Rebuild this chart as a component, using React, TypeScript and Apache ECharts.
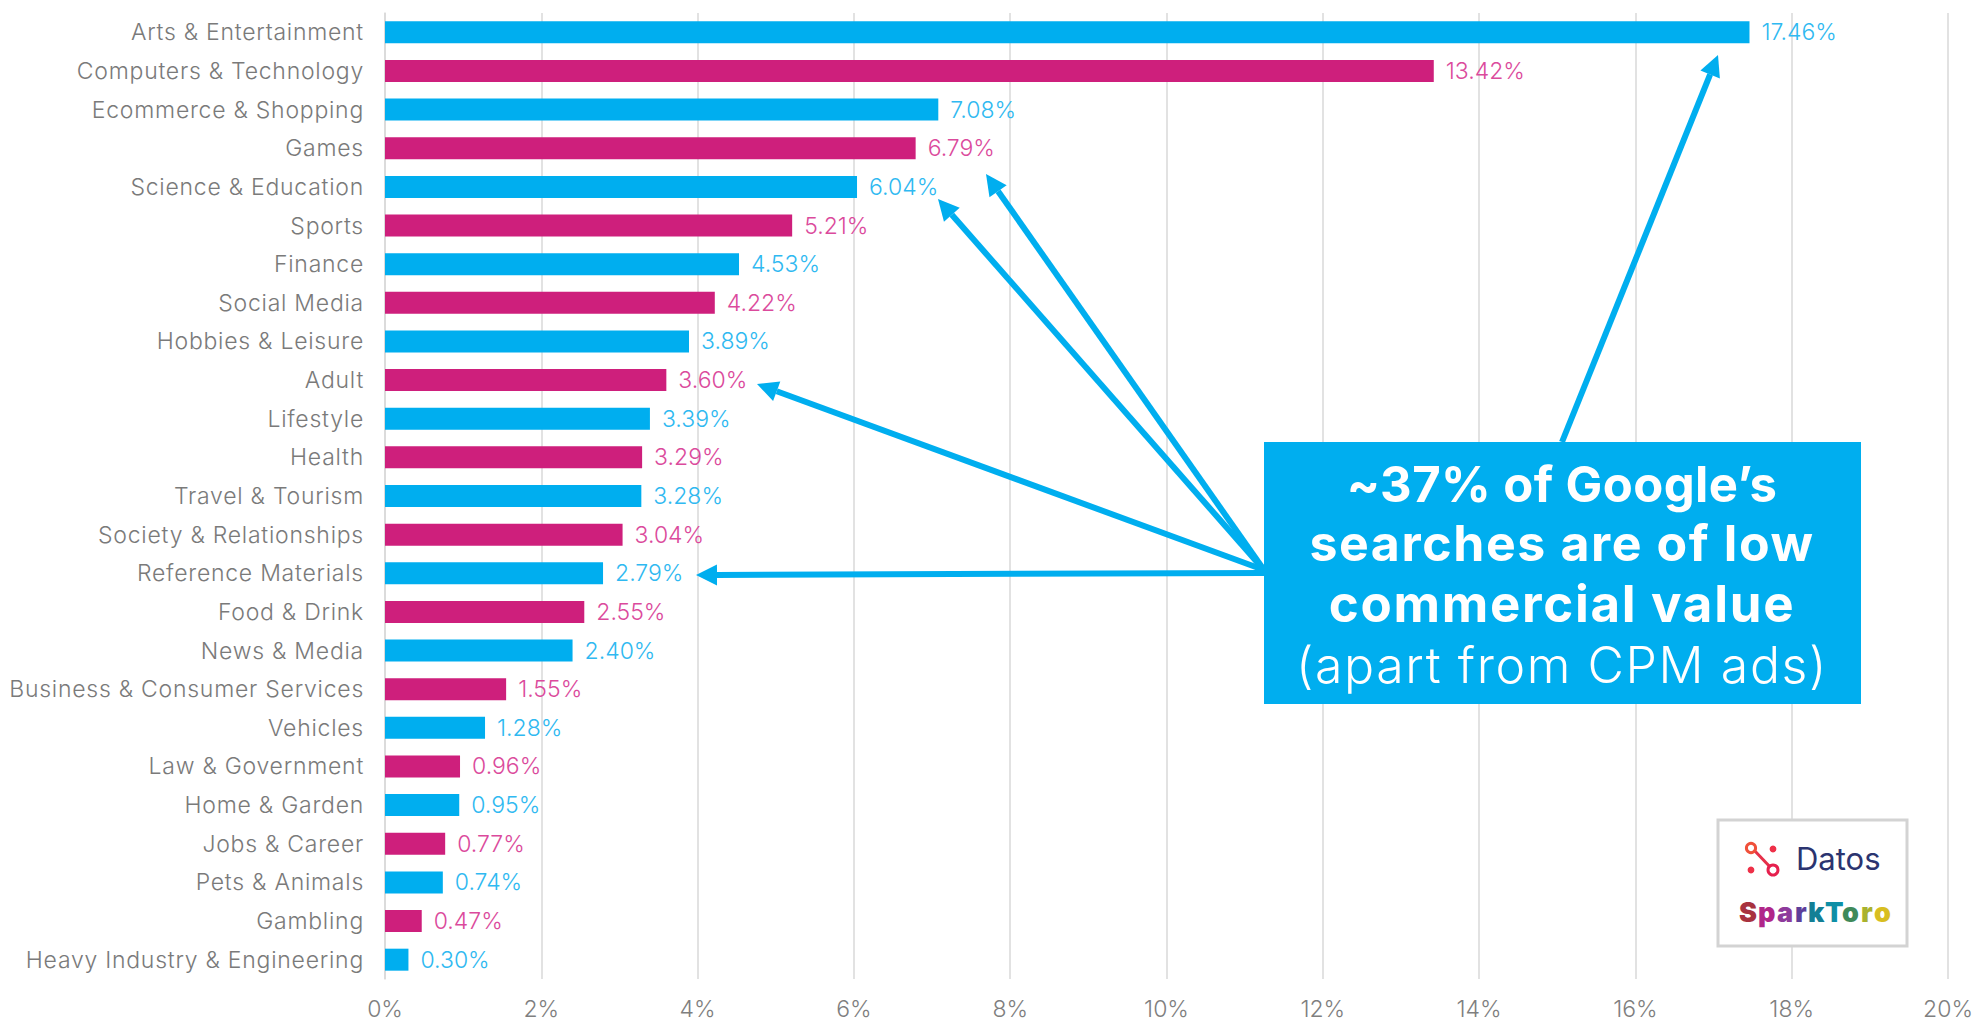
import React, { useEffect, useRef } from "react";
import * as echarts from "echarts";

const categories = [
  "Arts & Entertainment", "Computers & Technology", "Ecommerce & Shopping", "Games",
  "Science & Education", "Sports", "Finance", "Social Media", "Hobbies & Leisure", "Adult",
  "Lifestyle", "Health", "Travel & Tourism", "Society & Relationships", "Reference Materials",
  "Food & Drink", "News & Media", "Business & Consumer Services", "Vehicles", "Law & Government",
  "Home & Garden", "Jobs & Career", "Pets & Animals", "Gambling", "Heavy Industry & Engineering",
];
const shares = [
  17.46, 13.42, 7.08, 6.79, 6.04, 5.21, 4.53, 4.22, 3.89, 3.6, 3.39, 3.29, 3.28, 3.04, 2.79,
  2.55, 2.4, 1.55, 1.28, 0.96, 0.95, 0.77, 0.74, 0.47, 0.3,
];
const barColors = ["#00AEEF", "#CE1F7C"];
const labelColors = ["#2FB9F1", "#DB4A9C"];
const FONT = "Inter";

// start and end of each callout arrow: the tail sits on the callout box
const arrows = [
  [1562, 442, 1718, 55],
  [1264, 570, 986, 174],
  [1264, 570, 938, 199],
  [1264, 570, 757, 384],
  [1264, 573, 696, 575],
];

function arrowGraphics() {
  const out: any[] = [];
  for (const [x1, y1, x2, y2] of arrows) {
    const a = Math.atan2(y2 - y1, x2 - x1);
    const len = 21;
    const half = 10.5;
    const bx = x2 - len * Math.cos(a);
    const by = y2 - len * Math.sin(a);
    const nx = -Math.sin(a);
    const ny = Math.cos(a);
    out.push({
      type: "line",
      z: 20,
      shape: { x1, y1, x2: bx, y2: by },
      style: { stroke: "#00AEEF", lineWidth: 6 },
    });
    out.push({
      type: "polygon",
      z: 20,
      shape: { points: [[x2, y2], [bx + nx * half, by + ny * half], [bx - nx * half, by - ny * half]] },
      style: { fill: "#00AEEF" },
    });
  }
  return out;
}

const sparkLetters = ["S", "p", "a", "r", "k", "T", "o", "r", "o"];
const sparkColors = ["#A8323F", "#B0268A", "#8E3A9C", "#5E3F9A", "#137F95", "#0E8FA6", "#3F8A5A", "#A9B22E", "#D8BE20"];
const sparkOffsets = [0, 19, 38, 56, 69, 86, 103, 122, 135];

function logoGraphics() {
  const left = 1718;
  const top = 820;
  return [
    {
      type: "rect", z: 30,
      shape: { x: left, y: top, width: 189, height: 126 },
      style: { fill: "#FFFFFF", stroke: "#D3D3D3", lineWidth: 3 },
    },
    { type: "line", z: 31, shape: { x1: 1752, y1: 848, x2: 1773, y2: 870 }, style: { stroke: "#E6304A", lineWidth: 3 } },
    { type: "circle", z: 32, shape: { cx: 1751, cy: 848, r: 4.6 }, style: { fill: "#FFFFFF", stroke: "#F0503A", lineWidth: 3 } },
    { type: "circle", z: 32, shape: { cx: 1773, cy: 870, r: 5 }, style: { fill: "#FFFFFF", stroke: "#E6204E", lineWidth: 3 } },
    { type: "circle", z: 32, shape: { cx: 1773, cy: 849, r: 3.4 }, style: { fill: "#EE3048" } },
    { type: "circle", z: 32, shape: { cx: 1751, cy: 870, r: 3.4 }, style: { fill: "#EE3048" } },
    {
      type: "text", z: 32, x: 1796, y: 858,
      style: { text: "Datos", font: `400 31px ${FONT}`, fill: "#2B3470", textVerticalAlign: "middle", textAlign: "left" },
    },
    ...sparkLetters.map((ch, i) => ({
      type: "text", z: 32, x: 1739 + sparkOffsets[i], y: 912,
      style: { text: ch, font: `900 27px ${FONT}`, fill: sparkColors[i], textVerticalAlign: "middle", textAlign: "left" },
    })),
  ];
}

function calloutGraphics() {
  const lines = [
    { text: "~37% of Google\u2019s", y: 484, font: `700 49px ${FONT}` },
    { text: "searches are of low", y: 543, font: `700 50px ${FONT}` },
    { text: "commercial value", y: 603, font: `700 51px ${FONT}` },
    { text: "(apart from CPM ads)", y: 665, font: `300 50px ${FONT}` },
  ];
  return [
    {
      type: "rect", z: 25,
      shape: { x: 1264, y: 442, width: 597, height: 262 },
      style: { fill: "#00AEEF" },
    },
    ...lines.map((l) => ({
      type: "text", z: 26, x: 1562, y: l.y,
      style: { text: l.text, font: l.font, fill: "#FFFFFF", textAlign: "center", textVerticalAlign: "middle" },
    })),
  ];
}

// The category names and the callout run wider than the installed face sets them.
const textSpacing = `
  .share-chart text[text-anchor="end"] { letter-spacing: 0.75px; }
  .share-chart text[style*="49px"] { letter-spacing: 0.4px; }
  .share-chart text[style*="50px"] { letter-spacing: 1.6px; }
  .share-chart text[style*="51px"] { letter-spacing: 1.7px; }
`;

export default function App() {
  const ref = useRef<HTMLDivElement>(null);
  useEffect(() => {
    const chart = echarts.init(ref.current!, undefined, { renderer: "svg" });
    chart.setOption({
      animation: false,
      backgroundColor: "#FFFFFF",
      grid: { left: 385, right: 31, top: 13, bottom: 42, containLabel: false },
      xAxis: {
        type: "value",
        min: 0,
        max: 20,
        interval: 2,
        axisLine: { show: false },
        axisTick: { show: false },
        splitLine: { show: true, lineStyle: { color: "#D9D9D9", width: 1.5 } },
        axisLabel: {
          formatter: "{value}%",
          color: "#7F7F7F",
          fontFamily: FONT,
          fontWeight: 300,
          fontSize: 23,
          margin: 18,
        },
      },
      yAxis: {
        type: "category",
        inverse: true,
        data: categories,
        axisLine: { show: true, lineStyle: { color: "#D9D9D9", width: 1.5 } },
        axisTick: { show: false },
        axisLabel: {
          color: "#7A7A7A",
          fontFamily: FONT,
          fontWeight: 300,
          fontSize: 23,
          margin: 21,
        },
      },
      series: [
        {
          type: "bar",
          barWidth: 22,
          data: shares.map((value, i) => ({
            value,
            itemStyle: { color: barColors[i % 2] },
            label: { color: labelColors[i % 2] },
          })),
          label: {
            show: true,
            position: "right",
            distance: 12,
            fontFamily: FONT,
            fontWeight: 300,
            fontSize: 23,
            formatter: (p: any) => `${p.value.toFixed(2)}%`,
          },
        },
      ],
      graphic: [...arrowGraphics(), ...calloutGraphics(), ...logoGraphics()],
    });
    return () => chart.dispose();
  }, []);
  return (
    <>
      <style>{textSpacing}</style>
      <div ref={ref} className="share-chart" style={{ width: 1979, height: 1021, position: "absolute", left: 0, top: 0 }} />
    </>
  );
}
